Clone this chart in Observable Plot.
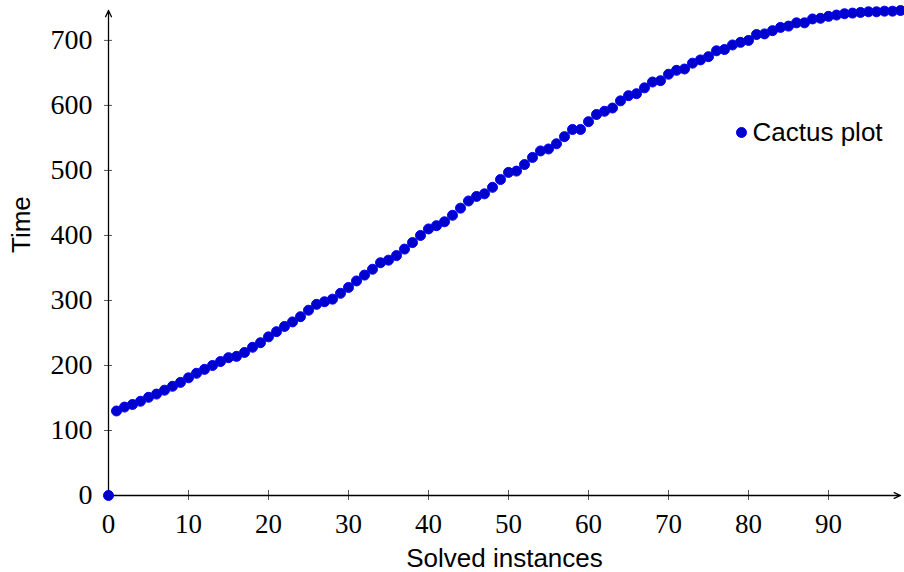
<!DOCTYPE html>
<html>
<head>
<meta charset="utf-8">
<script src="https://cdn.jsdelivr.net/npm/d3@7"></script>
<script src="https://cdn.jsdelivr.net/npm/@observablehq/plot@0.6"></script>
<style>
  html, body { margin: 0; padding: 0; background: white; }
</style>
</head>
<body>
<div id="chart"></div>
<script>
// Data
const solved = [0,1,2,3,4,5,6,7,8,9,10,11,12,13,14,15,16,17,18,19,20,21,22,23,24,25,26,27,28,29,30,31,32,33,34,35,36,37,38,39,40,41,42,43,44,45,46,47,48,49,50,51,52,53,54,55,56,57,58,59,60,61,62,63,64,65,66,67,68,69,70,71,72,73,74,75,76,77,78,79,80,81,82,83,84,85,86,87,88,89,90,91,92,93,94,95,96,97,98,99];
const times = [0,130,136,140,145,151,156,162,168,174,181,188,194,200,206,212,214,220,228,235,244,252,260,267,275,285,294,298,302,311,320,330,339,348,358,362,369,379,389,400,410,415,421,431,442,453,460,464,474,486,497,499,509,520,530,533,541,552,563,563,575,586,591,596,607,615,618,627,636,638,648,654,656,665,670,675,684,686,693,697,700,709,710,715,720,722,727,727,733,734,737,739,741,742,743,744,744,745,745,746];
const xTicks = [0,10,20,30,40,50,60,70,80,90];
const yTicks = [0,100,200,300,400,500,600,700];
const xDomain = [0, 99];
const yDomain = [0, 746];
const xLabel = "Solved instances";
const yLabel = "Time";
const seriesName = "Cactus plot";

const data = solved.map((s, i) => ({solved: s, time: times[i]}));

const W = 904, H = 572;
const mL = 108, mR = 4, mT = 10, mB = 77;
const frameW = W - mL - mR, frameH = H - mT - mB;

const serif = "'Liberation Serif', 'DejaVu Serif', serif";
const sans = "'Liberation Sans', Arial, sans-serif";
const fill = "#0000cc", stroke = "#0000ff";

const chart = Plot.plot({
  width: W, height: H,
  marginLeft: mL, marginRight: mR, marginTop: mT, marginBottom: mB,
  style: {background: "white", color: "black", overflow: "visible"},
  x: {domain: xDomain, axis: null},
  y: {domain: yDomain, axis: null},
  marks: [
    // tick marks crossing the axes
    Plot.ruleX(xTicks, {x: d => d, insetTop: frameH - 5, insetBottom: -5, stroke: "#555", strokeWidth: 1}),
    Plot.ruleY(yTicks, {y: d => d, insetRight: frameW - 4, insetLeft: -4, stroke: "#555", strokeWidth: 1}),
    // tick labels
    Plot.axisX({ticks: xTicks, tickSize: 0, tickPadding: 18, fontSize: 27, fontFamily: serif, label: null}),
    Plot.axisY({ticks: yTicks, tickSize: 0, tickPadding: 16, fontSize: 28, fontFamily: serif, label: null}),
    // axis lines with arrows
    Plot.arrow([{x1: xDomain[0], y1: yDomain[0], x2: xDomain[1], y2: yDomain[0]}], {x1: "x1", y1: "y1", x2: "x2", y2: "y2", stroke: "black", strokeWidth: 1.3, headLength: 8, headAngle: 50}),
    Plot.arrow([{x1: xDomain[0], y1: yDomain[0], x2: xDomain[0], y2: yDomain[1]}], {x1: "x1", y1: "y1", x2: "x2", y2: "y2", stroke: "black", strokeWidth: 1.3, headLength: 8, headAngle: 50}),
    // axis labels
    Plot.text([xLabel], {frameAnchor: "bottom", dy: 71, lineAnchor: "bottom", fontSize: 26, fontFamily: sans, fill: "black"}),
    Plot.text([yLabel], {frameAnchor: "left", dx: -79, rotate: -90, lineAnchor: "bottom", fontSize: 26, fontFamily: sans, fill: "black"}),
    // data
    Plot.dot(data, {x: "solved", y: "time", r: 5, fill: fill, stroke: stroke, strokeWidth: 1}),
    // legend
    Plot.dot([seriesName], {frameAnchor: "top-left", dx: 633, dy: 122, r: 5, fill: fill, stroke: stroke, strokeWidth: 1}),
    Plot.text([seriesName], {frameAnchor: "top-left", dx: 644, dy: 122, textAnchor: "start", lineAnchor: "middle", fontSize: 26, fontFamily: sans, fill: "black"})
  ]
});
document.getElementById("chart").appendChild(chart);
</script>
</body>
</html>
